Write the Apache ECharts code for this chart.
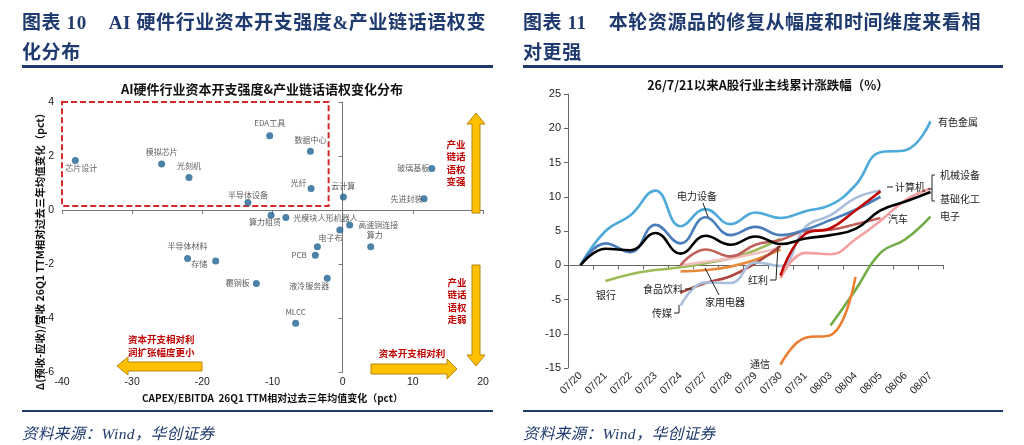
<!DOCTYPE html>
<html>
<head>
<meta charset="utf-8" />
<title>AI硬件资本开支 & 资源品修复</title>
<script src="https://cdn.jsdelivr.net/npm/echarts@6/dist/echarts.min.js"></script>
<style>
  body { margin:0; background:#fff; }
  #page { position:relative; width:1024px; height:445px; overflow:hidden; background:#fff; }
  #chart { position:absolute; left:0; top:0; width:1024px; height:445px; }
  .hd { position:absolute; z-index:2; color:#1F3A6E; font-weight:bold; font-size:19px; line-height:30px;
        font-family:"Liberation Serif","Noto Sans CJK SC",serif; white-space:nowrap; letter-spacing:0.6px; }
  .hd .gap { margin-left:22px; }
  .rule { position:absolute; z-index:2; background:#1F3A6E; }
  .src { position:absolute; z-index:2; top:421px; color:#1F3A6E; font-style:italic; font-size:15.5px; letter-spacing:0.4px;
         font-family:"Liberation Serif","Noto Sans CJK SC",serif; }
</style>
</head>
<body>
<div id="page">
  <div id="chart"></div>
  <div class="hd" style="left:22px;top:8px">图表 10<span class="gap">AI 硬件行业资本开支强度&amp;产业链话语权变</span><br>化分布</div>
  <div class="rule" style="left:22px;top:65px;width:471px;height:3px"></div>
  <div class="hd" style="left:523px;top:8px">图表 11<span class="gap">本轮资源品的修复从幅度和时间维度来看相</span><br>对更强</div>
  <div class="rule" style="left:523px;top:65px;width:480px;height:3px"></div>
  <div class="rule" style="left:22px;top:410px;width:471px;height:2px"></div>
  <div class="rule" style="left:523px;top:410px;width:480px;height:2px"></div>
  <div class="src" style="left:22px">资料来源：Wind，华创证券</div>
  <div class="src" style="left:523px">资料来源：Wind，华创证券</div>
</div>
<script type="text/javascript">
// ---- 图表10 数据：各细分行业 ----
var sectorNames = ['芯片设计','模拟芯片','光刻机','半导体设备','EDA工具','数据中心','光纤','云计算','玻璃基板','先进封装',
                   '算力租赁','光模块','人形机器人','高速铜连接','电子布','算力','PCB','液冷服务器','覆铜板','MLCC','半导体材料','存储'];
// CAPEX/EBITDA 26Q1 TTM相对过去三年均值变化（pct）
var capexChange = [-38.1,-25.8,-21.9,-13.5,-10.4,-4.6,-4.5,0.1,12.7,11.6,
                   -10.2,-8.1,-0.4,1.0,-3.6,4.0,-3.9,-2.2,-12.3,-6.7,-22.1,-18.1];
// Δ(预收-应收)/营收 26Q1 TTM相对过去三年均值变化（pct）
var powerChange = [1.83,1.70,1.20,0.28,2.75,2.18,0.80,0.48,1.54,0.42,
                   -0.19,-0.28,-0.74,-0.56,-1.36,-1.36,-1.68,-2.53,-2.72,-4.19,-1.80,-1.89];

// ---- 图表11 数据：累计涨跌幅（%） ----
var dates = ['07/20','07/21','07/22','07/23','07/24','07/27','07/28','07/29','07/30','07/31','08/03','08/04','08/05','08/06','08/07'];
var youseJinshu   = [0, 5.0, 7.3, 10.9, 5.7, 8.2, 6.0, 7.7, 6.9, 7.9, 8.8, 11.7, 16.5, 16.8, 21.0];
var dianliShebei  = [0, 3.2, 1.9, 5.9, 3.2, 7.0, 4.4, 5.6, 4.4, 5.2, 6.6, 8.1, 10.0, null, null];
var jichuHuagong  = [0, 2.4, 2.2, 4.7, 1.7, 4.3, 3.0, 4.2, 3.1, 3.9, 4.4, 5.3, 8.0, 9.3, 10.7];
var jixieShebei   = [null, null, null, null, null, null, null, null, -1.9, 1.8, 1.6, 3.8, 6.5, 9.5, 11.2];
var qiche         = [null, null, null, null, 0, 2.3, 1.3, 3.0, 3.7, 5.0, 5.2, 6.0, 6.9, null, null];
var shipinYinliao = [null, null, null, null, -4.0, -2.6, -1.6, 0.3, 2.8, null, null, null, null, null, null];
var yinhang       = [null, -2.3, -1.3, -0.7, -0.3, 0.3, 1.0, 2.2, 3.9, null, null, null, null, null, null];
var hongli        = [null, null, null, null, -0.9, -0.7, -0.2, 0.8, 2.3, null, null, null, null, null, null];
var jiayongDianqi = [null, null, null, null, 0, 0.5, 1.0, 1.7, 2.6, null, null, null, null, null, null];
var chuanmei      = [null, null, null, null, -5.9, -2.5, -2.6, 0.4, -0.1, 5.6, 7.3, 9.8, 10.9, null, null];
var jisuanji      = [null, null, null, null, null, null, null, null, -1.5, 4.6, 5.4, 8.0, 10.8, null, null];
var dianzi        = [null, null, null, null, null, null, null, null, null, null, -8.8, -3.6, 1.8, 3.8, 7.1];
var tongxin       = [null, null, null, null, null, null, null, null, -14.5, -10.6, -10.2, -1.7, null, null, null];

var CJK = '"Noto Sans CJK SC", sans-serif';
var LAT = 'Arial, "Liberation Sans", sans-serif';

// 散点标签摆放
var labelPlace = {
  '芯片设计':['bottom',[6,-5]], '模拟芯片':['top',[0,0]], '光刻机':['top',[0,1]], '半导体设备':['top',[0,5]],
  'EDA工具':['top',[0,0]], '数据中心':['top',[0,1]], '光纤':['left',[4,-5]], '云计算':['top',[0,1]],
  '玻璃基板':['left',[6,0]], '先进封装':['left',[7,0]], '算力租赁':['bottom',[-6,-6]], '光模块':['right',[-1,0]],
  '人形机器人':['top',[-2,0]], '高速铜连接':['right',[0,0]], '电子布':['top',[13,4]], '算力':['top',[4,1]],
  'PCB':['left',[0,0]], '液冷服务器':['bottom',[-18,-5]], '覆铜板':['left',[2,0]], 'MLCC':['top',[0,1]],
  '半导体材料':['top',[0,0]], '存储':['left',[0,3]]
};

var scatterData = sectorNames.map(function (n, i) {
  var p = labelPlace[n];
  return { name: n, value: [capexChange[i], powerChange[i]], label: { position: p[0], offset: p[1] } };
});

function line(name, data, color, z) {
  return {
    name: name, type: 'line', xAxisIndex: 2, yAxisIndex: 2, data: data,
    smooth: 0.45, showSymbol: false, symbol: 'none', connectNulls: false, z: z || 2,
    lineStyle: { color: color, width: 2.6 }
  };
}

function txt(x, y, s, extra) {
  var st = { text: s, fill: '#222', font: '10px ' + CJK, textAlign: 'left', align: 'left',
             textVerticalAlign: 'middle', verticalAlign: 'middle' };
  for (var k in extra) st[k] = extra[k];
  return { type: 'text', x: x, y: y, z: 10, style: st };
}
function pl(points, color) {
  return { type: 'polyline', z: 10, shape: { points: points }, style: { stroke: color || '#222', lineWidth: 1, fill: null } };
}
function arrow(points) {
  return { type: 'polygon', z: 9, shape: { points: points }, style: { fill: '#FFC000', stroke: '#B8860B', lineWidth: 1 } };
}

var redTxt = { fill: '#C00000', font: 'bold 9.5px ' + CJK, lineHeight: 12.5 };

var chart = echarts.init(document.getElementById('chart'));
var option = {
  animation: false,
  backgroundColor: '#fff',
  grid: [
    { left: 62, top: 102, width: 421, height: 270 },
    { left: 568, top: 94, width: 375, height: 274 }
  ],
  xAxis: [
    { gridIndex: 0, type: 'value', min: -40, max: 20, interval: 10, position: 'bottom',
      axisLine: { show: false, onZero: false }, axisTick: { show: false }, splitLine: { show: false },
      axisLabel: { fontSize: 10.5, color: '#222', fontFamily: LAT, margin: 5 },
      name: 'CAPEX/EBITDA  26Q1 TTM相对过去三年均值变化（pct）', nameLocation: 'middle', nameGap: 17,
      nameTextStyle: { fontSize: 10, fontWeight: 'bold', color: '#111', fontFamily: CJK } },
    { gridIndex: 0, type: 'value', min: -40, max: 20, interval: 10, position: 'top',
      axisLine: { show: true, onZero: true, lineStyle: { color: '#777', width: 1 } },
      axisTick: { show: true, inside: true, length: 4, lineStyle: { color: '#777' } },
      axisLabel: { show: false }, splitLine: { show: false } },
    { gridIndex: 1, type: 'category', data: dates, position: 'bottom', boundaryGap: true,
      axisLine: { show: false, onZero: false }, axisTick: { show: false }, splitLine: { show: false },
      axisLabel: { interval: 0, rotate: 45, fontSize: 10.5, color: '#222', fontFamily: LAT, margin: 6 } },
    { gridIndex: 1, type: 'category', data: dates, position: 'top', boundaryGap: true,
      axisLine: { show: true, onZero: true, lineStyle: { color: '#666', width: 1 } },
      axisTick: { show: true, inside: true, length: 4, interval: 0, lineStyle: { color: '#666' } },
      axisLabel: { show: false }, splitLine: { show: false } }
  ],
  yAxis: [
    { gridIndex: 0, type: 'value', min: -6, max: 4, interval: 2, position: 'left',
      axisLine: { show: false, onZero: false }, axisTick: { show: false }, splitLine: { show: false },
      axisLabel: { fontSize: 10.5, color: '#222', fontFamily: LAT, margin: 8 } },
    { gridIndex: 0, type: 'value', min: -6, max: 4, interval: 2, position: 'right',
      axisLine: { show: true, onZero: true, lineStyle: { color: '#777', width: 1 } },
      axisTick: { show: true, inside: true, length: 4, lineStyle: { color: '#777' } },
      axisLabel: { show: false }, splitLine: { show: false } },
    { gridIndex: 1, type: 'value', min: -15, max: 25, interval: 5, position: 'left',
      axisLine: { show: true, onZero: false, lineStyle: { color: '#666', width: 1 } },
      axisTick: { show: true, length: 4, lineStyle: { color: '#666' } }, splitLine: { show: false },
      axisLabel: { fontSize: 11, color: '#222', fontFamily: LAT, margin: 7 } }
  ],
  series: [
    { type: 'scatter', xAxisIndex: 0, yAxisIndex: 0, symbolSize: 7, z: 3,
      itemStyle: { color: '#1F6391' },
      label: { show: true, formatter: '{b}', fontSize: 8, color: '#333', fontFamily: CJK, distance: 5 },
      data: scatterData,
      markArea: { silent: true,
        itemStyle: { color: 'rgba(0,0,0,0)', borderColor: '#D42A2A', borderWidth: 2, borderType: [6, 3] },
        data: [[{ coord: [-40.3, 4] }, { coord: [-2, 0.15] }]] } },
    line('银行', yinhang, '#9BBB59', 2),
    line('红利', hongli, '#E98B3D', 2),
    line('家用电器', jiayongDianqi, '#F2BFBF', 2),
    line('食品饮料', shipinYinliao, '#B0463D', 2),
    line('汽车', qiche, '#C0605A', 3),
    line('传媒', chuanmei, '#A9BEDB', 3),
    line('有色金属', youseJinshu, '#4DAADB', 3),
    line('电力设备', dianliShebei, '#4A7EBB', 3),
    line('机械设备', jixieShebei, '#F4A0A0', 4),
    line('计算机', jisuanji, '#C00000', 4),
    line('基础化工', jichuHuagong, '#000000', 5),
    line('电子', dianzi, '#70AD47', 5),
    line('通信', tongxin, '#ED7D31', 5)
  ],
  graphic: { elements: [
    // 图表10
    txt(262, 89, 'AI硬件行业资本开支强度&产业链话语权变化分布', { font: 'bold 13px ' + CJK, fill: '#111', textAlign: 'center', align: 'center' }),
    { type: 'text', x: 40, y: 249, rotation: Math.PI / 2, z: 10,
      style: { text: 'Δ(预收-应收)/营收 26Q1 TTM相对过去三年均值变化（pct）', fill: '#111', font: 'bold 10.5px ' + CJK,
               textAlign: 'center', align: 'center', textVerticalAlign: 'middle', verticalAlign: 'middle' } },
    arrow([[476,113],[485,124],[480,124],[480,213],[472,213],[472,124],[467,124]]),
    arrow([[472,265],[480,265],[480,355],[485,355],[476,366],[467,355],[472,355]]),
    arrow([[371,364],[447,364],[447,359],[457,369],[447,379],[447,374],[371,374]]),
    arrow([[202,362],[128,362],[128,357],[117,366],[128,375],[128,371],[202,371]]),
    txt(456, 163, '产业\n链话\n语权\n变强', Object.assign({ textAlign: 'center', align: 'center' }, redTxt)),
    txt(457, 301, '产业\n链话\n语权\n走弱', Object.assign({ textAlign: 'center', align: 'center' }, redTxt)),
    txt(412, 353, '资本开支相对利', Object.assign({ textAlign: 'center', align: 'center' }, redTxt)),
    txt(128, 346, '资本开支相对利\n润扩张幅度更小', redTxt),
    // 图表11
    txt(768, 85, '26/7/21以来A股行业主线累计涨跌幅（%）', { font: 'bold 12.5px ' + CJK, fill: '#111', textAlign: 'center', align: 'center' }),
    txt(938, 122, '有色金属'),
    txt(940, 175, '机械设备'),
    txt(940, 199, '基础化工'),
    txt(940, 216, '电子'),
    pl([[935,175],[932,175],[932,201],[935,201]]),
    pl([[928,189],[932,189]]),
    txt(895, 187, '计算机'),
    pl([[887,187],[893,187]]),
    txt(888, 219, '汽车'),
    txt(697, 196, '电力设备', { textAlign: 'center', align: 'center' }),
    pl([[703,203],[708,217]]),
    txt(606, 295, '银行', { textAlign: 'center', align: 'center' }),
    txt(683, 289, '食品饮料', { textAlign: 'right', align: 'right' }),
    pl([[685,289],[692,289]]),
    txt(705, 302, '家用电器'),
    pl([[719,295],[705,268]]),
    txt(652, 313, '传媒'),
    pl([[674,313],[679,313],[679,305]]),
    txt(748, 280, '红利'),
    pl([[770,280],[776,280],[778,246]]),
    txt(750, 364, '通信')
  ] }
};
chart.setOption(option);
</script>
</body>
</html>
